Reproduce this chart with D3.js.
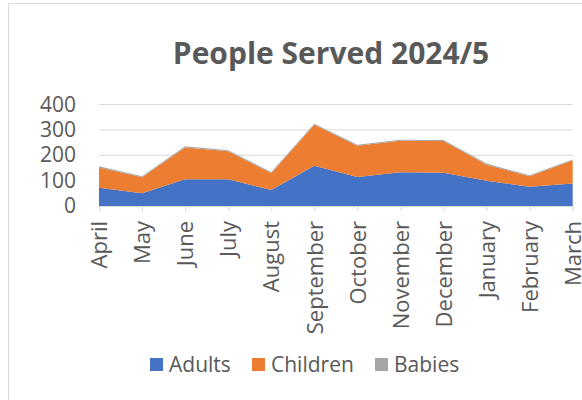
<!DOCTYPE html>
<html><head><meta charset="utf-8">
<script src="https://cdn.jsdelivr.net/npm/d3@7"></script>
<style>body{margin:0;background:#fff;} text{font-family:"Open Sans",sans-serif;}</style>
</head><body>
<svg id="c" width="582" height="400"></svg>
<script>
const months = ["April","May","June","July","August","September","October","November","December","January","February","March"];
const adults = [72,50,105,105,63,159,114,133,131,100,76,89];
const children = [80,63,126,111,66,161,123,124,125,63,41,91];
const babies = [5,4,4,4,5,4,4,4,4,4,4,3];
const seriesNames = ["Adults","Children","Babies"];
const colors = ["#4472C4","#ED7D31","#A5A5A5"];
const yTicks = [0,100,200,300,400];

const svg = d3.select("#c");
svg.append("rect").attr("x",8.5).attr("y",3.5).attr("width",600).attr("height",420)
  .attr("fill","#fff").attr("stroke","#d9d9d9");

svg.append("text").attr("x",331).attr("y",64).attr("text-anchor","middle")
  .attr("font-size",30).attr("font-weight","bold").attr("fill","#595959")
  .text("People Served 2024/5");

const x = d3.scalePoint().domain(months).range([99,572.7]);
const y = d3.scaleLinear().domain([0,400]).range([206,104.5]);

const table = months.map((m,i)=>({month:m, Adults:adults[i], Children:children[i], Babies:babies[i]}));
const stack = d3.stack().keys(seriesNames)(table);

svg.append("g").selectAll("line").data(yTicks.filter(t=>t>0)).join("line")
  .attr("x1",99).attr("x2",572.7).attr("y1",d=>y(d)).attr("y2",d=>y(d))
  .attr("stroke","#d9d9d9").attr("stroke-width",1);

const area = d3.area().x(d=>x(d.data.month)).y0(d=>y(d[0])).y1(d=>y(d[1]));
svg.append("g").selectAll("path").data(stack).join("path")
  .attr("d",area).attr("fill",(d,i)=>colors[i]);

const yAxis = svg.append("g").attr("transform","translate(99,0)")
  .call(d3.axisLeft(y).tickValues(yTicks).tickSize(0).tickPadding(23));
yAxis.select(".domain").remove();
yAxis.selectAll("text").attr("font-size",21).attr("fill","#595959").attr("font-family","Open Sans, sans-serif");

const xAxis = svg.append("g").attr("transform",`translate(0,${y(0)})`)
  .call(d3.axisBottom(x).tickSize(5).tickPadding(8));
xAxis.select(".domain").attr("stroke","#d9d9d9");
xAxis.selectAll("line").attr("stroke","#d9d9d9");
xAxis.selectAll("text").attr("font-size",22).attr("fill","#595959")
  .attr("font-family","Open Sans, sans-serif")
  .attr("transform","rotate(-90)").attr("text-anchor","end")
  .attr("x",-15).attr("y",0).attr("dy","0.35em");

const legX = [150,252,375];
const leg = svg.append("g").selectAll("g").data(seriesNames).join("g")
  .attr("transform",(d,i)=>`translate(${legX[i]},358)`);
leg.append("rect").attr("width",13).attr("height",13).attr("fill",(d,i)=>colors[i]);
leg.append("text").attr("x",19).attr("y",6.5).attr("dy","0.35em").attr("font-size",21)
  .attr("fill","#595959").text(d=>d);
</script>
</body></html>
